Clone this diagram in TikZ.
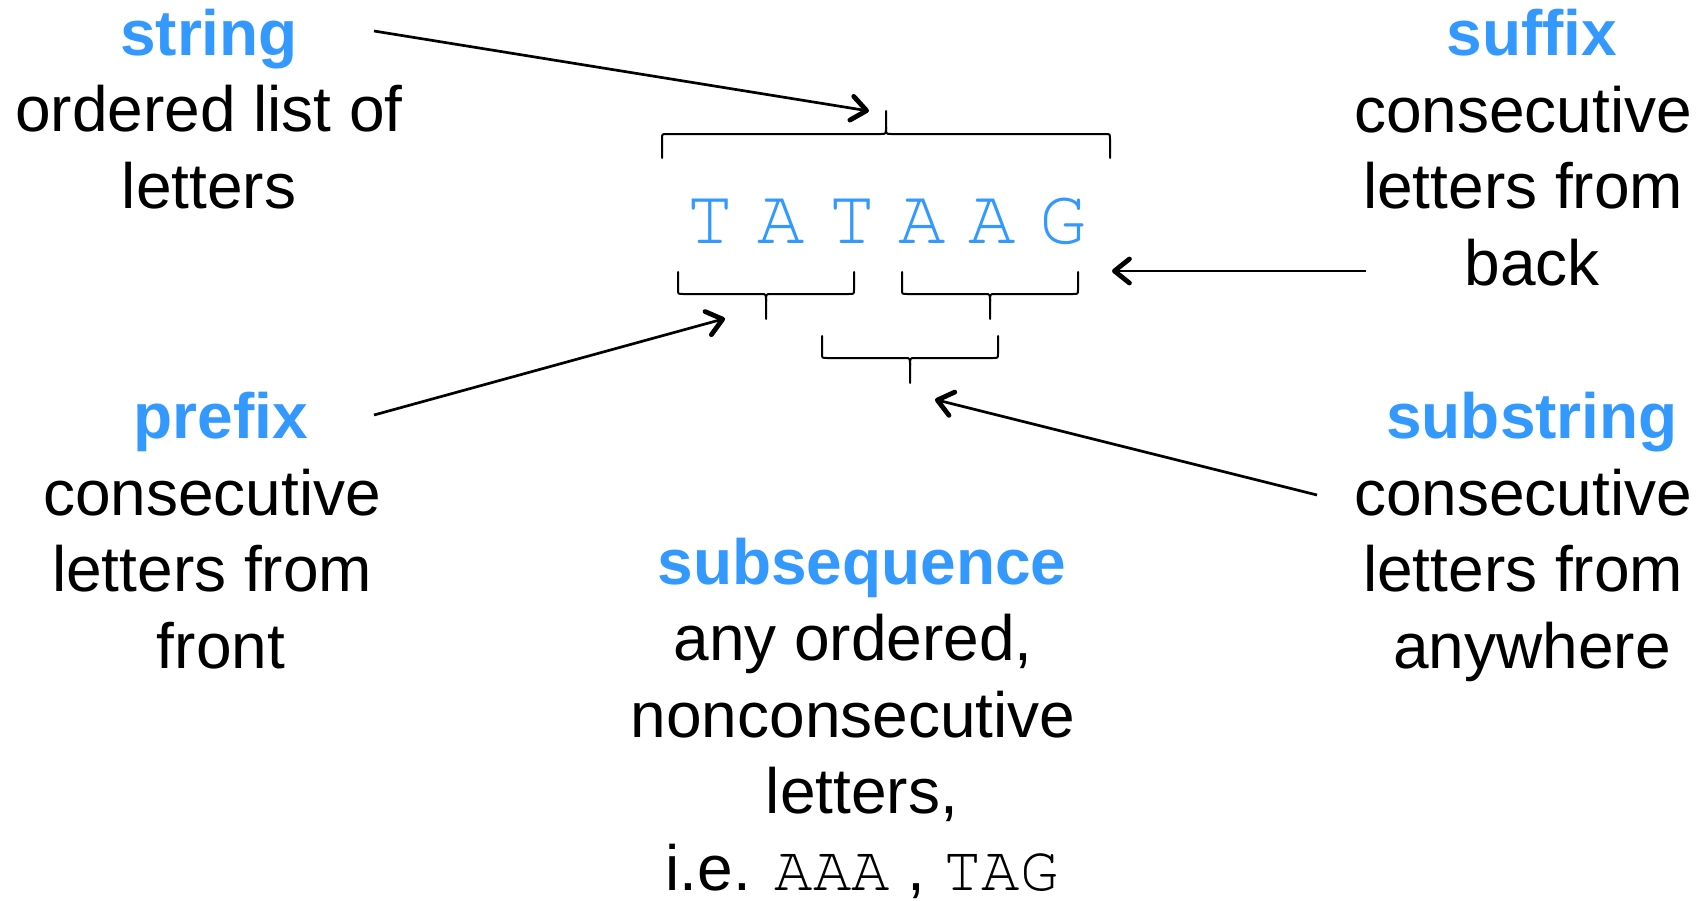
\documentclass[tikz,border=0pt]{standalone}
\usepackage{fontspec}
\setmainfont{Liberation Sans}
\newfontfamily\curfont{TeX Gyre Cursor}
\usetikzlibrary{arrows.meta}
\definecolor{myblue}{RGB}{51,153,255}
\newcommand\tsp{\hbox to .278em{}}
\newcommand\mybrace[6]{%
  \draw[bracestyle] (#1,#4) -- (#1,{#5+0.2*(#4-#5)}) .. controls (#1,#5) .. ({#1+5},#5)
     -- ({#3-5},#5) .. controls (#3,#5) .. (#3,{#5+0.3*(#6-#5)}) -- (#3,#6);
  \draw[bracestyle] (#2,#4) -- (#2,{#5+0.2*(#4-#5)}) .. controls (#2,#5) .. ({#2-5},#5)
     -- ({#3+5},#5) .. controls (#3,#5) .. (#3,{#5+0.3*(#6-#5)});
}
\tikzset{
  block/.style={anchor=base, align=center, inner sep=0pt, font=\fontsize{64}{76.5}\selectfont},
  seq/.style={anchor=base, inner sep=0pt, text=myblue, font=\curfont\fontsize{79}{79}\selectfont},
  bracestyle/.style={line width=2pt, line cap=round, line join=round},
  pointer/.style={line width=2.7pt, -{Straight Barb[length=15pt,width=24pt,line width=4.8pt 0,round]}},
}
\newcommand\ttl[1]{{\bfseries\color{myblue}#1}}
\begin{document}
\begin{tikzpicture}[x=1pt,y=-1pt]
\useasboundingbox (0,0) rectangle (1703,900);
% sequence letters
\node[seq] (l1) at (710.5,243.3) {T};
\node[seq] (l2) at (781,243.3) {A};
\node[seq] (l3) at (851.7,243.3) {T};
\node[seq] (l4) at (921.7,243.3) {A};
\node[seq] (l5) at (992.5,243.3) {A};
\node[seq] (l6) at (1063.3,243.3) {G};
% braces
\mybrace{662}{1110}{886}{158}{134}{111}
\mybrace{678}{854}{766}{272}{294}{319}
\mybrace{902}{1078}{990}{272}{294}{319}
\mybrace{822}{998}{910}{336}{358}{383}
% text blocks (anchored at the baseline of their last line)
\node[block] (string) at (209,208) {\ttl{string}\\ordered list of\\letters};
\node[block] (suffix) at (1532,285) {\ttl{suffix}\\consecutive\tsp\\letters from\tsp\\back};
\node[block] (prefix) at (221,668) {\ttl{prefix}\\consecutive\tsp\\letters from\tsp\\front};
\node[block] (substring) at (1532,668) {\ttl{substring}\\consecutive\tsp\\letters from\tsp\\anywhere};
\node[block] (subseq) at (862,890) {\ttl{subsequence}\\any ordered,\tsp\\nonconsecutive\tsp\\letters,\\i.e. {\curfont AAA} , {\curfont TAG}};
% arrows
\coordinate (a1s) at (374,31);   \coordinate (a1e) at (869,111);
\coordinate (a2s) at (374,415);  \coordinate (a2e) at (725,318.5);
\coordinate (a3s) at (1366,271); \coordinate (a3e) at (1112,271);
\coordinate (a4s) at (1317,495); \coordinate (a4e) at (935,399.5);
\draw[pointer] (a1s) -- (a1e);
\draw[pointer] (a2s) -- (a2e);
\draw[pointer] (a3s) -- (a3e);
\draw[pointer] (a4s) -- (a4e);
\end{tikzpicture}
\end{document}
